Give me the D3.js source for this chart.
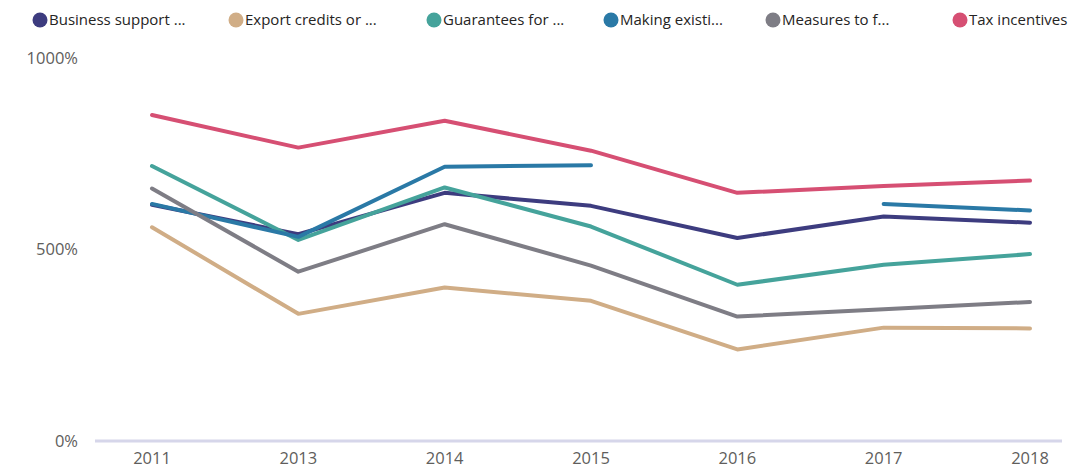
<!DOCTYPE html>
<html><head><meta charset="utf-8">
<script src="https://cdn.jsdelivr.net/npm/d3@7"></script>
<style>body{margin:0;background:#fff;}svg{display:block;font-family:"Segoe UI","Open Sans",sans-serif;}</style>
</head><body><svg id="c" width="1071" height="470"></svg>
<script>
const years = ["2011","2013","2014","2015","2016","2017","2018"];
const seriesNames = ["Business support ...","Export credits or ...","Guarantees for ...","Making existi...","Measures to f...","Tax incentives"];
const colors = ["#3d3c7f","#d0ad86","#45a39b","#2a79a6","#7e7d85","#d64f73"];
const businessSupport = [617,540,648,614,530,586,570];
const exportCredits   = [558,332,401,366,239,296,294];
const guarantees      = [718,525,662,560,408,460,488];
const makingExisting  = [619,533,716,720,null,619,602];
const measures        = [659,442,566,458,325,344,363];
const taxIncentives   = [851,766,836,758,648,666,680];
const yTicks = [0,500,1000];

const allSeries = [businessSupport,exportCredits,guarantees,makingExisting,measures,taxIncentives];
const svg = d3.select("#c");
const x = d3.scalePoint().domain(years).range([152,1030]);
const y = d3.scaleLinear().domain([0,1000]).range([441,58]);

svg.append("line").attr("x1",95).attr("x2",1062).attr("y1",441).attr("y2",441)
  .attr("stroke","#d6d6ea").attr("stroke-width",3);

svg.selectAll(".yl").data(yTicks).enter().append("text")
  .attr("x",78).attr("y",d=>y(d)).attr("dy","0.35em").attr("text-anchor","end")
  .attr("font-size",16.5).attr("fill","#605e5c").text(d=>d+"%");

svg.selectAll(".xl").data(years).enter().append("text")
  .attr("x",d=>x(d)).attr("y",464).attr("text-anchor","middle")
  .attr("font-size",16.5).attr("fill","#605e5c").text(d=>d);

const line = d3.line().defined(d=>d.v!=null).x(d=>x(d.k)).y(d=>y(d.v));
allSeries.forEach((s,i)=>{
  svg.append("path").datum(years.map((k,j)=>({k,v:s[j]})))
    .attr("d",line).attr("fill","none").attr("stroke",colors[i])
    .attr("stroke-width",4).attr("stroke-linecap","round").attr("stroke-linejoin","round");
});

const legX = [40,236,434,611,773,960];
seriesNames.forEach((n,i)=>{
  const g = svg.append("g");
  g.append("circle").attr("cx",legX[i]).attr("cy",20).attr("r",7.5).attr("fill",colors[i]);
  g.append("text").attr("x",legX[i]+9).attr("y",20).attr("dy","0.35em")
    .attr("font-size",15).attr("fill","#252423").text(n);
});
</script></body></html>
